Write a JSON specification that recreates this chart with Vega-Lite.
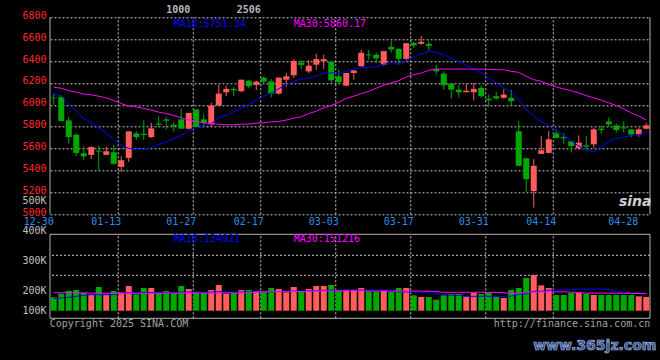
{
"$schema": "https://vega.github.io/schema/vega-lite/v6.json",
"width": 600, "height": 301,
"autosize": {"type": "none"},
"padding": {"left": 50, "top": 17.3, "right": 10, "bottom": 41.7},
"background": "#000000",
"config": {"view": {"stroke": null}},
"resolve": {"scale": {"y": "independent"}, "axis": {"y": "independent"}},
"datasets": {
"grid": [{"d":"01-13"},{"d":"01-27"},{"d":"02-17"},{"d":"03-03"},{"d":"03-17"},{"d":"03-31"},{"d":"04-14"}],
"k": [
{"d":"12-30","o":6066,"h":6103,"l":6003,"c":6060,"m10":6100,"m30":6161,"v":167000,"vm10":160000,"vm30":190000},
{"d":"12-31","o":6073,"h":6085,"l":5852,"c":5852,"m10":6079,"m30":6152,"v":185000,"vm10":163000,"vm30":190000},
{"d":"01-02","o":5858,"h":5891,"l":5645,"c":5706,"m10":6012,"m30":6130,"v":198500,"vm10":167000,"vm30":190000},
{"d":"01-03","o":5727,"h":5739,"l":5533,"c":5561,"m10":5942,"m30":6115,"v":202300,"vm10":172000,"vm30":190000},
{"d":"01-06","o":5558,"h":5621,"l":5497,"c":5530,"m10":5873,"m30":6100,"v":188500,"vm10":177000,"vm30":189000},
{"d":"01-07","o":5543,"h":5621,"l":5506,"c":5615,"m10":5836,"m30":6091,"v":181800,"vm10":180000,"vm30":188000},
{"d":"01-08","o":5582,"h":5630,"l":5406,"c":5573,"m10":5788,"m30":6079,"v":212300,"vm10":180000,"vm30":187000},
{"d":"01-09","o":5543,"h":5618,"l":5540,"c":5576,"m10":5745,"m30":6064,"v":181800,"vm10":180000,"vm30":187000},
{"d":"01-10","o":5567,"h":5636,"l":5455,"c":5461,"m10":5685,"m30":6039,"v":198500,"vm10":181000,"vm30":187000},
{"d":"01-13","o":5433,"h":5530,"l":5388,"c":5494,"m10":5630,"m30":6012,"v":191800,"vm10":188000,"vm30":187000},
{"d":"01-14","o":5515,"h":5758,"l":5479,"c":5758,"m10":5603,"m30":5988,"v":215700,"vm10":190000,"vm30":187000},
{"d":"01-15","o":5739,"h":5758,"l":5679,"c":5706,"m10":5594,"m30":5982,"v":181800,"vm10":190000,"vm30":187000},
{"d":"01-16","o":5736,"h":5858,"l":5679,"c":5724,"m10":5594,"m30":5967,"v":209000,"vm10":190000,"vm30":187000},
{"d":"01-17","o":5706,"h":5836,"l":5697,"c":5785,"m10":5609,"m30":5952,"v":209000,"vm10":191000,"vm30":187000},
{"d":"01-20","o":5830,"h":5894,"l":5797,"c":5818,"m10":5636,"m30":5933,"v":191800,"vm10":190000,"vm30":188000},
{"d":"01-21","o":5867,"h":5888,"l":5776,"c":5855,"m10":5661,"m30":5921,"v":198500,"vm10":191000,"vm30":188000},
{"d":"01-22","o":5818,"h":5839,"l":5758,"c":5806,"m10":5691,"m30":5903,"v":188500,"vm10":190000,"vm30":188000},
{"d":"01-23","o":5867,"h":5967,"l":5782,"c":5782,"m10":5721,"m30":5882,"v":215700,"vm10":193000,"vm30":188000},
{"d":"01-24","o":5782,"h":5927,"l":5776,"c":5927,"m10":5767,"m30":5861,"v":205700,"vm10":194000,"vm30":188000},
{"d":"01-27","o":5958,"h":5961,"l":5797,"c":5797,"m10":5794,"m30":5846,"v":195200,"vm10":193000,"vm30":188000},
{"d":"02-05","o":5867,"h":5912,"l":5806,"c":5836,"m10":5797,"m30":5836,"v":191800,"vm10":192000,"vm30":188000},
{"d":"02-06","o":5821,"h":6018,"l":5800,"c":5994,"m10":5827,"m30":5827,"v":202300,"vm10":193000,"vm30":188000},
{"d":"02-07","o":5994,"h":6185,"l":5988,"c":6103,"m10":5882,"m30":5824,"v":219000,"vm10":195000,"vm30":188000},
{"d":"02-10","o":6115,"h":6176,"l":6079,"c":6146,"m10":5906,"m30":5818,"v":185000,"vm10":194000,"vm30":189000},
{"d":"02-11","o":6146,"h":6164,"l":6079,"c":6133,"m10":5936,"m30":5818,"v":188500,"vm10":193000,"vm30":189000},
{"d":"02-12","o":6124,"h":6230,"l":6115,"c":6230,"m10":5967,"m30":5824,"v":202300,"vm10":194000,"vm30":189000},
{"d":"02-13","o":6221,"h":6230,"l":6152,"c":6170,"m10":6003,"m30":5824,"v":202300,"vm10":193000,"vm30":190000},
{"d":"02-14","o":6182,"h":6221,"l":6133,"c":6212,"m10":6039,"m30":5833,"v":198500,"vm10":195000,"vm30":194000},
{"d":"02-17","o":6249,"h":6261,"l":6200,"c":6212,"m10":6079,"m30":5836,"v":195200,"vm10":194000,"vm30":195000},
{"d":"02-18","o":6215,"h":6236,"l":6070,"c":6103,"m10":6109,"m30":5845,"v":209000,"vm10":195000,"vm30":195000},
{"d":"02-19","o":6103,"h":6249,"l":6094,"c":6249,"m10":6148,"m30":5848,"v":205700,"vm10":196000,"vm30":195000},
{"d":"02-20","o":6230,"h":6291,"l":6167,"c":6261,"m10":6185,"m30":5861,"v":191800,"vm10":197000,"vm30":195000},
{"d":"02-21","o":6270,"h":6418,"l":6245,"c":6400,"m10":6215,"m30":5879,"v":212300,"vm10":198000,"vm30":196000},
{"d":"02-24","o":6385,"h":6412,"l":6327,"c":6364,"m10":6236,"m30":5891,"v":195200,"vm10":198000,"vm30":196000},
{"d":"02-25","o":6306,"h":6412,"l":6291,"c":6358,"m10":6245,"m30":5921,"v":205700,"vm10":199000,"vm30":197000},
{"d":"02-26","o":6367,"h":6467,"l":6321,"c":6418,"m10":6261,"m30":5942,"v":215700,"vm10":200000,"vm30":199000},
{"d":"02-27","o":6400,"h":6458,"l":6327,"c":6418,"m10":6291,"m30":5973,"v":215700,"vm10":201000,"vm30":199000},
{"d":"02-28","o":6394,"h":6394,"l":6200,"c":6224,"m10":6291,"m30":5994,"v":219000,"vm10":202000,"vm30":199000},
{"d":"03-03","o":6261,"h":6321,"l":6191,"c":6209,"m10":6291,"m30":6024,"v":202300,"vm10":202000,"vm30":199000},
{"d":"03-04","o":6176,"h":6291,"l":6170,"c":6291,"m10":6306,"m30":6058,"v":203400,"vm10":202000,"vm30":199000},
{"d":"03-05","o":6291,"h":6315,"l":6230,"c":6315,"m10":6327,"m30":6079,"v":203400,"vm10":202000,"vm30":199000},
{"d":"03-06","o":6352,"h":6503,"l":6352,"c":6476,"m10":6339,"m30":6103,"v":209000,"vm10":202000,"vm30":199000},
{"d":"03-07","o":6461,"h":6503,"l":6412,"c":6452,"m10":6345,"m30":6124,"v":196800,"vm10":202000,"vm30":199000},
{"d":"03-10","o":6458,"h":6476,"l":6382,"c":6424,"m10":6348,"m30":6152,"v":196800,"vm10":202000,"vm30":198000},
{"d":"03-11","o":6367,"h":6491,"l":6358,"c":6491,"m10":6373,"m30":6179,"v":200100,"vm10":202000,"vm30":198000},
{"d":"03-12","o":6530,"h":6585,"l":6479,"c":6506,"m10":6376,"m30":6200,"v":193500,"vm10":202000,"vm30":198000},
{"d":"03-13","o":6512,"h":6518,"l":6367,"c":6421,"m10":6376,"m30":6221,"v":209000,"vm10":194000,"vm30":198000},
{"d":"03-14","o":6421,"h":6564,"l":6397,"c":6564,"m10":6406,"m30":6255,"v":209000,"vm10":194000,"vm30":198000},
{"d":"03-17","o":6567,"h":6573,"l":6518,"c":6542,"m10":6436,"m30":6276,"v":176800,"vm10":193000,"vm30":198000},
{"d":"03-18","o":6558,"h":6630,"l":6548,"c":6576,"m10":6464,"m30":6291,"v":168500,"vm10":193000,"vm30":198000},
{"d":"03-19","o":6558,"h":6585,"l":6497,"c":6539,"m10":6491,"m30":6315,"v":168500,"vm10":193000,"vm30":197000},
{"d":"03-20","o":6327,"h":6367,"l":6276,"c":6306,"m10":6479,"m30":6327,"v":155200,"vm10":184000,"vm30":196000},
{"d":"03-21","o":6285,"h":6306,"l":6139,"c":6179,"m10":6458,"m30":6327,"v":176800,"vm10":183000,"vm30":192000},
{"d":"03-24","o":6194,"h":6194,"l":6058,"c":6139,"m10":6427,"m30":6327,"v":183500,"vm10":177000,"vm30":192000},
{"d":"03-25","o":6139,"h":6176,"l":6070,"c":6115,"m10":6397,"m30":6327,"v":183500,"vm10":177000,"vm30":192000},
{"d":"03-26","o":6115,"h":6194,"l":6115,"c":6130,"m10":6361,"m30":6327,"v":171800,"vm10":172000,"vm30":192000},
{"d":"03-27","o":6115,"h":6200,"l":6042,"c":6146,"m10":6327,"m30":6327,"v":188500,"vm10":172000,"vm30":192000},
{"d":"03-28","o":6155,"h":6176,"l":6064,"c":6079,"m10":6291,"m30":6327,"v":183500,"vm10":172000,"vm30":192000},
{"d":"03-31","o":6055,"h":6094,"l":5979,"c":6042,"m10":6245,"m30":6325,"v":188500,"vm10":172000,"vm30":192000},
{"d":"04-01","o":6079,"h":6118,"l":6049,"c":6058,"m10":6200,"m30":6321,"v":168500,"vm10":172000,"vm30":191000},
{"d":"04-02","o":6064,"h":6145,"l":6058,"c":6094,"m10":6155,"m30":6321,"v":163500,"vm10":172000,"vm30":190000},
{"d":"04-03","o":6064,"h":6139,"l":5994,"c":6033,"m10":6115,"m30":6306,"v":202300,"vm10":172000,"vm30":186000},
{"d":"04-07","o":5758,"h":5849,"l":5443,"c":5443,"m10":6048,"m30":6297,"v":209000,"vm10":183000,"vm30":186000},
{"d":"04-08","o":5512,"h":5512,"l":5206,"c":5321,"m10":5958,"m30":6261,"v":242300,"vm10":184000,"vm30":193000},
{"d":"04-09","o":5212,"h":5503,"l":5061,"c":5443,"m10":5897,"m30":6230,"v":252300,"vm10":197000,"vm30":193000},
{"d":"04-10","o":5552,"h":5712,"l":5552,"c":5585,"m10":5852,"m30":6215,"v":217800,"vm10":197000,"vm30":194000},
{"d":"04-11","o":5561,"h":5761,"l":5555,"c":5685,"m10":5806,"m30":6185,"v":209000,"vm10":202000,"vm30":194000},
{"d":"04-14","o":5739,"h":5776,"l":5697,"c":5697,"m10":5767,"m30":6164,"v":178500,"vm10":202000,"vm30":194000},
{"d":"04-15","o":5706,"h":5739,"l":5639,"c":5694,"m10":5721,"m30":6145,"v":178500,"vm10":202000,"vm30":194000},
{"d":"04-16","o":5667,"h":5667,"l":5564,"c":5624,"m10":5670,"m30":6130,"v":188500,"vm10":205000,"vm30":193000},
{"d":"04-17","o":5603,"h":5721,"l":5594,"c":5655,"m10":5624,"m30":6109,"v":191800,"vm10":205000,"vm30":190000},
{"d":"04-18","o":5630,"h":5715,"l":5594,"c":5618,"m10":5588,"m30":6085,"v":185200,"vm10":205000,"vm30":188000},
{"d":"04-21","o":5639,"h":5791,"l":5609,"c":5776,"m10":5570,"m30":6064,"v":178500,"vm10":205000,"vm30":188000},
{"d":"04-22","o":5782,"h":5812,"l":5736,"c":5770,"m10":5618,"m30":6042,"v":178500,"vm10":205000,"vm30":188000},
{"d":"04-23","o":5849,"h":5885,"l":5800,"c":5821,"m10":5664,"m30":6018,"v":178500,"vm10":205000,"vm30":187000},
{"d":"04-24","o":5812,"h":5830,"l":5745,"c":5770,"m10":5691,"m30":5994,"v":178500,"vm10":194000,"vm30":187000},
{"d":"04-25","o":5794,"h":5849,"l":5745,"c":5785,"m10":5706,"m30":5964,"v":178500,"vm10":193000,"vm30":187000},
{"d":"04-28","o":5776,"h":5776,"l":5706,"c":5730,"m10":5721,"m30":5927,"v":178500,"vm10":187000,"vm30":186000},
{"d":"04-29","o":5727,"h":5791,"l":5709,"c":5776,"m10":5727,"m30":5897,"v":171800,"vm10":187000,"vm30":186000},
{"d":"04-30","o":5782,"h":5836,"l":5776,"c":5812,"m10":5750,"m30":5862,"v":168500,"vm10":187000,"vm30":186000}
]},
"data": {"name": "k"},
"layer": [
{"data": {"name": "grid"},
 "mark": {"type": "rule", "color": "#c8c8c8", "strokeDash": [2,2], "strokeWidth": 1},
 "encoding": {
  "x": {"field": "d", "type": "ordinal", "bandPosition": 0.1},
  "y": {"datum": 5000, "type": "quantitative", "scale": {"domain":[5000,6800],"range":[197,0],"nice":false,"zero":false},
        "axis": {"orient": "left", "values": [5000,5200,5400,5600,5800,6000,6200,6400,6600,6800], "format": "d", "title": null, "domain": false, "ticks": false,
                 "labelColor": "#ff2a2a", "labelFont": "DejaVu Sans Mono", "labelFontSize": 10, "labelPadding": 4, "labelOffset": -2, "labelFlush": false, "labelOverlap": false,
                 "grid": true, "gridColor": "#c8c8c8", "gridDash": [2,2], "gridWidth": 1}},
  "y2": {"datum": 6800}}},
{"data": {"name": "grid"},
 "mark": {"type": "rule", "color": "#c8c8c8", "strokeDash": [2,2], "strokeWidth": 1},
 "encoding": {
  "x": {"field": "d", "type": "ordinal", "bandPosition": 0.1},
  "y": {"datum": 62000, "type": "quantitative", "scale": {"domain":[62000,100000,200000,500000],"range":[301,293.4,273.4,183.4],"nice":false,"zero":false},
        "axis": {"orient": "left", "values": [100000,200000,300000,400000,500000], "labelExpr": "(datum.value/1000) + 'K'", "title": null, "domain": false, "ticks": false, "grid": false,
                 "labelColor": "#c0c0c0", "labelFont": "DejaVu Sans Mono", "labelFontSize": 10, "labelPadding": 4, "labelFlush": false, "labelOverlap": false}},
  "y2": {"datum": 388000}}},
{"data": {"values": [{"g": 251300}, {"g": 318000}]},
 "mark": {"type": "rule", "color": "#c8c8c8", "strokeDash": [2,2], "strokeWidth": 1},
 "encoding": {"y": {"field": "g", "type": "quantitative", "scale": {"domain":[62000,100000,200000,500000],"range":[301,293.4,273.4,183.4],"nice":false,"zero":false}, "axis": null}}},
{"data": {"values": [{"g": 62000}, {"g": 388000}]},
 "mark": {"type": "rule", "color": "#b4b4b4", "strokeWidth": 1},
 "encoding": {"y": {"field": "g", "type": "quantitative", "scale": {"domain":[62000,100000,200000,500000],"range":[301,293.4,273.4,183.4],"nice":false,"zero":false}, "axis": null}}},
{"data": {"values": [{"d": "12-30"}]},
 "mark": {"type": "rule", "color": "#b4b4b4", "strokeWidth": 1},
 "encoding": {"x": {"field": "d", "type": "ordinal", "bandPosition": 0},
  "y": {"datum": 5000, "type": "quantitative", "scale": {"domain":[5000,6800],"range":[197,0],"nice":false,"zero":false}, "axis": null}, "y2": {"datum": 6800}}},
{"data": {"values": [{"d": "04-30"}]},
 "mark": {"type": "rule", "color": "#b4b4b4", "strokeWidth": 1},
 "encoding": {"x": {"field": "d", "type": "ordinal", "bandPosition": 1},
  "y": {"datum": 5000, "type": "quantitative", "scale": {"domain":[5000,6800],"range":[197,0],"nice":false,"zero":false}, "axis": null}, "y2": {"datum": 6800}}},
{"data": {"values": [{"d": "12-30"}]},
 "mark": {"type": "rule", "color": "#b4b4b4", "strokeWidth": 1},
 "encoding": {"x": {"field": "d", "type": "ordinal", "bandPosition": 0},
  "y": {"datum": 62000, "type": "quantitative", "scale": {"domain":[62000,100000,200000,500000],"range":[301,293.4,273.4,183.4],"nice":false,"zero":false}, "axis": null}, "y2": {"datum": 388000}}},
{"data": {"values": [{"d": "04-30"}]},
 "mark": {"type": "rule", "color": "#b4b4b4", "strokeWidth": 1},
 "encoding": {"x": {"field": "d", "type": "ordinal", "bandPosition": 1},
  "y": {"datum": 62000, "type": "quantitative", "scale": {"domain":[62000,100000,200000,500000],"range":[301,293.4,273.4,183.4],"nice":false,"zero":false}, "axis": null}, "y2": {"datum": 388000}}},
{"mark": {"type": "rule", "strokeWidth": 1},
 "encoding": {
  "x": {"field": "d", "type": "ordinal",
        "scale": {"domain": ["12-30","12-31","01-02","01-03","01-06","01-07","01-08","01-09","01-10","01-13","01-14","01-15","01-16","01-17","01-20","01-21","01-22","01-23","01-24","01-27","02-05","02-06","02-07","02-10","02-11","02-12","02-13","02-14","02-17","02-18","02-19","02-20","02-21","02-24","02-25","02-26","02-27","02-28","03-03","03-04","03-05","03-06","03-07","03-10","03-11","03-12","03-13","03-14","03-17","03-18","03-19","03-20","03-21","03-24","03-25","03-26","03-27","03-28","03-31","04-01","04-02","04-03","04-07","04-08","04-09","04-10","04-11","04-14","04-15","04-16","04-17","04-18","04-21","04-22","04-23","04-24","04-25","04-28","04-29","04-30"], "paddingInner": 0, "paddingOuter": 0},
        "axis": {"orient": "bottom", "offset": -104, "values": ["12-30","01-13","01-27","02-17","03-03","03-17","03-31","04-14","04-28"], "title": null, "domain": false, "ticks": false, "grid": false,
                 "labelAngle": 0, "labelColor": "#2b8fea", "labelFont": "DejaVu Sans Mono", "labelFontSize": 10, "labelPadding": 7, "labelOverlap": false, "labelFlush": false, "bandPosition": 0,
                 "labelOffset": {"condition": {"test": "datum.value === '04-28'", "value": 7}, "value": 0}}},
  "y": {"field": "l", "type": "quantitative", "scale": {"domain":[5000,6800],"range":[197,0],"nice":false,"zero":false}, "axis": null},
  "y2": {"field": "h"},
  "color": {"condition": {"test": "datum.c >= datum.o", "value": "#ff5c5c"}, "value": "#00a800"}}},
{"mark": {"type": "bar", "width": 6},
 "encoding": {
  "x": {"field": "d", "type": "ordinal"},
  "y": {"field": "o", "type": "quantitative", "scale": {"domain":[5000,6800],"range":[197,0],"nice":false,"zero":false}, "axis": null},
  "y2": {"field": "c"},
  "color": {"condition": {"test": "datum.c >= datum.o", "value": "#ff5c5c"}, "value": "#00a800"}}},
{"mark": {"type": "line", "color": "#0000ff", "strokeWidth": 1},
 "encoding": {"x": {"field": "d", "type": "ordinal"},
  "y": {"field": "m10", "type": "quantitative", "scale": {"domain":[5000,6800],"range":[197,0],"nice":false,"zero":false}, "axis": null}}},
{"mark": {"type": "line", "color": "#ff00ff", "strokeWidth": 1},
 "encoding": {"x": {"field": "d", "type": "ordinal"},
  "y": {"field": "m30", "type": "quantitative", "scale": {"domain":[5000,6800],"range":[197,0],"nice":false,"zero":false}, "axis": null}}},
{"mark": {"type": "bar", "width": 6},
 "encoding": {
  "x": {"field": "d", "type": "ordinal"},
  "y": {"field": "v", "type": "quantitative", "scale": {"domain":[62000,100000,200000,500000],"range":[301,293.4,273.4,183.4],"nice":false,"zero":false}, "axis": null},
  "y2": {"datum": 100000},
  "color": {"condition": {"test": "datum.c >= datum.o", "value": "#ff5c5c"}, "value": "#00a800"}}},
{"mark": {"type": "line", "color": "#0000ff", "strokeWidth": 1},
 "encoding": {"x": {"field": "d", "type": "ordinal"},
  "y": {"field": "vm10", "type": "quantitative", "scale": {"domain":[62000,100000,200000,500000],"range":[301,293.4,273.4,183.4],"nice":false,"zero":false}, "axis": null}}},
{"mark": {"type": "line", "color": "#ff00ff", "strokeWidth": 1},
 "encoding": {"x": {"field": "d", "type": "ordinal"},
  "y": {"field": "vm30", "type": "quantitative", "scale": {"domain":[62000,100000,200000,500000],"range":[301,293.4,273.4,183.4],"nice":false,"zero":false}, "axis": null}}},
{"data": {"values": [{}]},
 "mark": {"type": "text", "text": "MA10:5751.34", "align": "left", "baseline": "middle", "font": "DejaVu Sans Mono", "fontSize": 10, "color": "#0000ff"},
 "encoding": {"x": {"datum": "01-22", "type": "ordinal"}, "y": {"datum": 6742, "type": "quantitative", "scale": {"domain":[5000,6800],"range":[197,0],"nice":false,"zero":false}, "axis": null}}},
{"data": {"values": [{}]},
 "mark": {"type": "text", "text": "MA30:5860.17", "align": "left", "baseline": "middle", "font": "DejaVu Sans Mono", "fontSize": 10, "color": "#ff00ff"},
 "encoding": {"x": {"datum": "02-21", "type": "ordinal"}, "y": {"datum": 6742, "type": "quantitative", "scale": {"domain":[5000,6800],"range":[197,0],"nice":false,"zero":false}, "axis": null}}},
{"data": {"values": [{}]},
 "mark": {"type": "text", "text": "1000", "align": "left", "baseline": "middle", "font": "DejaVu Sans Mono", "fontSize": 10, "fontWeight": "bold", "color": "#b8b8b8"},
 "encoding": {"x": {"datum": "01-21", "type": "ordinal"}, "y": {"datum": 6867, "type": "quantitative", "scale": {"domain":[5000,6800],"range":[197,0],"nice":false,"zero":false}, "axis": null}}},
{"data": {"values": [{}]},
 "mark": {"type": "text", "text": "2506", "align": "center", "baseline": "middle", "font": "DejaVu Sans Mono", "fontSize": 10, "fontWeight": "bold", "color": "#b8b8b8"},
 "encoding": {"x": {"datum": "02-13", "type": "ordinal"}, "y": {"datum": 6867, "type": "quantitative", "scale": {"domain":[5000,6800],"range":[197,0],"nice":false,"zero":false}, "axis": null}}},
{"data": {"values": [{}]},
 "mark": {"type": "text", "text": "sina", "align": "center", "baseline": "middle", "dx": 4, "font": "DejaVu Sans", "fontSize": 14, "fontWeight": "bold", "fontStyle": "italic", "color": "#d0d0d0"},
 "encoding": {"x": {"datum": "04-28", "type": "ordinal"}, "y": {"datum": 5115, "type": "quantitative", "scale": {"domain":[5000,6800],"range":[197,0],"nice":false,"zero":false}, "axis": null}}},
{"data": {"values": [{}]},
 "mark": {"type": "text", "text": "MA10:134921", "align": "left", "baseline": "middle", "font": "DejaVu Sans Mono", "fontSize": 10, "color": "#0000ff"},
 "encoding": {"x": {"datum": "01-22", "type": "ordinal"}, "y": {"datum": 372000, "type": "quantitative", "scale": {"domain":[62000,100000,200000,500000],"range":[301,293.4,273.4,183.4],"nice":false,"zero":false}, "axis": null}}},
{"data": {"values": [{}]},
 "mark": {"type": "text", "text": "MA30:151216", "align": "left", "baseline": "middle", "font": "DejaVu Sans Mono", "fontSize": 10, "color": "#ff00ff"},
 "encoding": {"x": {"datum": "02-21", "type": "ordinal"}, "y": {"datum": 372000, "type": "quantitative", "scale": {"domain":[62000,100000,200000,500000],"range":[301,293.4,273.4,183.4],"nice":false,"zero":false}, "axis": null}}},
{"data": {"values": [{}]},
 "mark": {"type": "text", "text": "Copyright 2025 SINA.COM", "align": "left", "baseline": "middle", "dx": -4, "font": "DejaVu Sans Mono", "fontSize": 10, "color": "#a0a0a0"},
 "encoding": {"x": {"datum": "12-30", "type": "ordinal"}, "y": {"datum": 33500, "type": "quantitative", "scale": {"domain":[62000,100000,200000,500000],"range":[301,293.4,273.4,183.4],"nice":false,"zero":false}, "axis": null}}},
{"data": {"values": [{}]},
 "mark": {"type": "text", "text": "http://finance.sina.com.cn", "align": "right", "baseline": "middle", "dx": 4, "font": "DejaVu Sans Mono", "fontSize": 10, "color": "#a0a0a0"},
 "encoding": {"x": {"datum": "04-30", "type": "ordinal"}, "y": {"datum": 33500, "type": "quantitative", "scale": {"domain":[62000,100000,200000,500000],"range":[301,293.4,273.4,183.4],"nice":false,"zero":false}, "axis": null}}},
{"data": {"values": [{}]},
 "mark": {"type": "text", "text": "www.365jz.com", "align": "center", "baseline": "middle", "dx": 1, "font": "DejaVu Sans", "fontSize": 14, "fontWeight": "bold", "color": "#2d4f8f", "stroke": "#a8bde0", "strokeWidth": 0.7},
 "encoding": {"x": {"datum": "04-21", "type": "ordinal"}, "y": {"datum": -74000, "type": "quantitative", "scale": {"domain":[62000,100000,200000,500000],"range":[301,293.4,273.4,183.4],"nice":false,"zero":false}, "axis": null}}}
]
}
